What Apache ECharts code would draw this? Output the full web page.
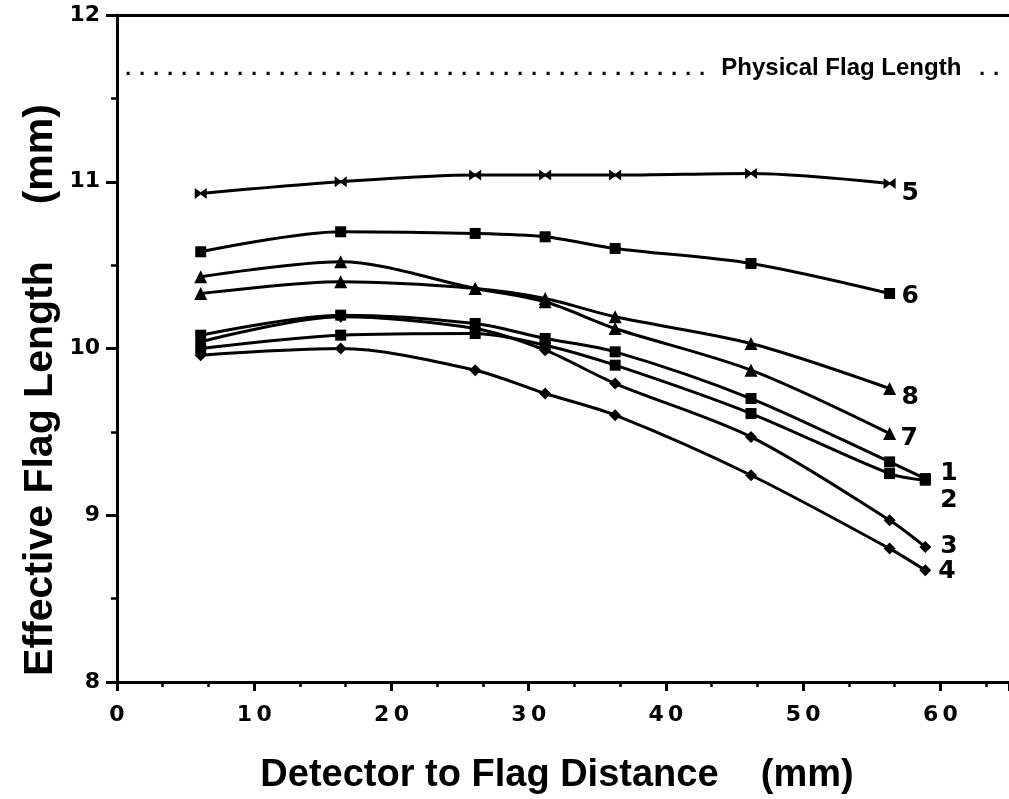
<!DOCTYPE html>
<html>
<head>
<meta charset="utf-8">
<script src="https://cdn.jsdelivr.net/npm/echarts@6/dist/echarts.min.js"></script>
<style>
html,body{margin:0;padding:0;background:#fff;}
#chart{width:1009px;height:799px;}
</style>
</head>
<body>
<div id="chart"></div>
<script>
// Detector to flag distance (mm)
const xValues = [6.1, 16.3, 26.1, 31.2, 36.3, 46.2, 56.3, 58.9];
// Effective flag length (mm) per curve
const s1 = [10.08, 10.20, 10.15, 10.06, 9.98, 9.70, 9.32, 9.22];
const s2 = [10.00, 10.08, 10.09, 10.02, 9.90, 9.61, 9.25, 9.21];
const s3 = [10.04, 10.19, 10.12, 9.99, 9.79, 9.47, 8.97, 8.81];
const s4 = [9.96, 10.00, 9.87, 9.73, 9.60, 9.24, 8.80, 8.67];
const s5 = [10.93, 11.00, 11.04, 11.04, 11.04, 11.05, 10.99];
const s6 = [10.58, 10.70, 10.69, 10.67, 10.60, 10.51, 10.33];
const s7 = [10.43, 10.52, 10.36, 10.28, 10.12, 9.87, 9.49];
const s8 = [10.33, 10.40, 10.36, 10.30, 10.19, 10.03, 9.76];
const seriesNames = ['1', '2', '3', '4', '5', '6', '7', '8'];
const physicalLength = 11.65;
const physicalX = [0.7, 64.6];
const physicalLabelX = 53.0;
const physicalLabel = 'Physical Flag Length';
const xTicks = [0, 10, 20, 30, 40, 50, 60];
const yTicks = [8, 9, 10, 11, 12];
const xTitle = 'Detector to Flag Distance    (mm)';
const yTitle = 'Effective Flag Length     (mm)';

const allSeries = [s1, s2, s3, s4, s5, s6, s7, s8];
const bowtie = 'path://M0,0L5,4L10,0L10,10L5,6L0,10Z';
const symbols = ['rect', 'rect', 'diamond', 'diamond', bowtie, 'rect', 'triangle', 'triangle'];
const symbolSizes = [11, 11, 12, 12, [12, 11], 11, 13, 13];
const labelOffsets = [[7, -5], [7, 20], [7, 0], [5, 1], [4, 10], [4, 3], [3, 5], [4, 9]];

const lineSeries = allSeries.map((vals, i) => ({
  name: seriesNames[i],
  type: 'line',
  data: vals.map((v, j) => [xValues[j], v]),
  smooth: 0.3,
  symbol: symbols[i],
  symbolSize: symbolSizes[i],
  showAllSymbol: true,
  itemStyle: { color: '#000' },
  lineStyle: { color: '#000', width: 3 },
  endLabel: {
    show: true,
    formatter: seriesNames[i],
    offset: labelOffsets[i],
    fontFamily: 'DejaVu Sans',
    fontWeight: 'bold',
    fontSize: 25,
    color: '#000'
  },
  z: 3
}));

const physSeries = {
  type: 'line',
  data: physicalX.map(x => [x, physicalLength]),
  symbol: 'none',
  lineStyle: { color: '#000', width: 3.2, type: [3, 11], cap: 'butt' },
  z: 2
};
const physLabelSeries = {
  type: 'scatter',
  data: [[physicalLabelX, physicalLength]],
  symbolSize: 1,
  itemStyle: { color: '#fff', opacity: 1 },
  label: {
    show: true,
    position: 'inside',
    formatter: physicalLabel,
    backgroundColor: '#fff',
    padding: [4, 14, 4, 8],
    offset: [0, -5],
    fontFamily: 'Liberation Sans',
    fontWeight: 'bold',
    fontSize: 24,
    color: '#000',
    opacity: 1,
    textBorderWidth: 0,
    textBorderColor: 'transparent'
  },
  z: 4
};

const chart = echarts.init(document.getElementById('chart'), null, { renderer: 'canvas' });
chart.setOption({
  animation: false,
  backgroundColor: '#fff',
  grid: { left: 117, top: 15, width: 895, height: 667, containLabel: false },
  xAxis: [{
    type: 'value',
    min: 0, max: 65, interval: 10,
    axisLine: { show: true, onZero: false, lineStyle: { color: '#000', width: 3 } },
    axisTick: { show: true, inside: false, length: 9, lineStyle: { color: '#000', width: 3 } },
    minorTick: { show: true, splitNumber: 3, length: 5, lineStyle: { color: '#000', width: 2.5 } },
    splitLine: { show: false },
    axisLabel: {
      showMaxLabel: false,
      margin: 22,
      fontFamily: 'DejaVu Sans', fontWeight: 'bold', fontSize: 22, color: '#000',
      formatter: v => xTicks.indexOf(v) >= 0 ? String(v).split('').join('\u2009') : ''
    }
  }, {
    type: 'value', position: 'top',
    min: 0, max: 65,
    axisLine: { show: true, onZero: false, lineStyle: { color: '#000', width: 3 } },
    axisTick: { show: false }, axisLabel: { show: false }, splitLine: { show: false }
  }],
  yAxis: {
    type: 'value',
    min: 8, max: 12, interval: 1,
    axisLine: { show: true, onZero: false, lineStyle: { color: '#000', width: 3 } },
    axisTick: { show: true, inside: false, length: 11, lineStyle: { color: '#000', width: 3 } },
    minorTick: { show: true, splitNumber: 2, length: 6, lineStyle: { color: '#000', width: 2.5 } },
    splitLine: { show: false },
    axisLabel: {
      margin: 17,
      fontFamily: 'DejaVu Sans', fontWeight: 'bold', fontSize: 22, color: '#000',
      formatter: v => yTicks.indexOf(v) >= 0 ? String(v) : ''
    }
  },
  graphic: [{
    type: 'text', x: 557, y: 776,
    style: { text: xTitle, font: 'bold 38px "Liberation Sans"', fill: '#000', textAlign: 'center', textVerticalAlign: 'middle' }
  }, {
    type: 'text', x: 41, y: 390, rotation: Math.PI / 2,
    style: { text: yTitle, font: 'bold 41px "Liberation Sans"', fill: '#000', textAlign: 'center', textVerticalAlign: 'middle' }
  }],
  series: [physSeries, physLabelSeries].concat(lineSeries)
});
</script>
</body>
</html>
